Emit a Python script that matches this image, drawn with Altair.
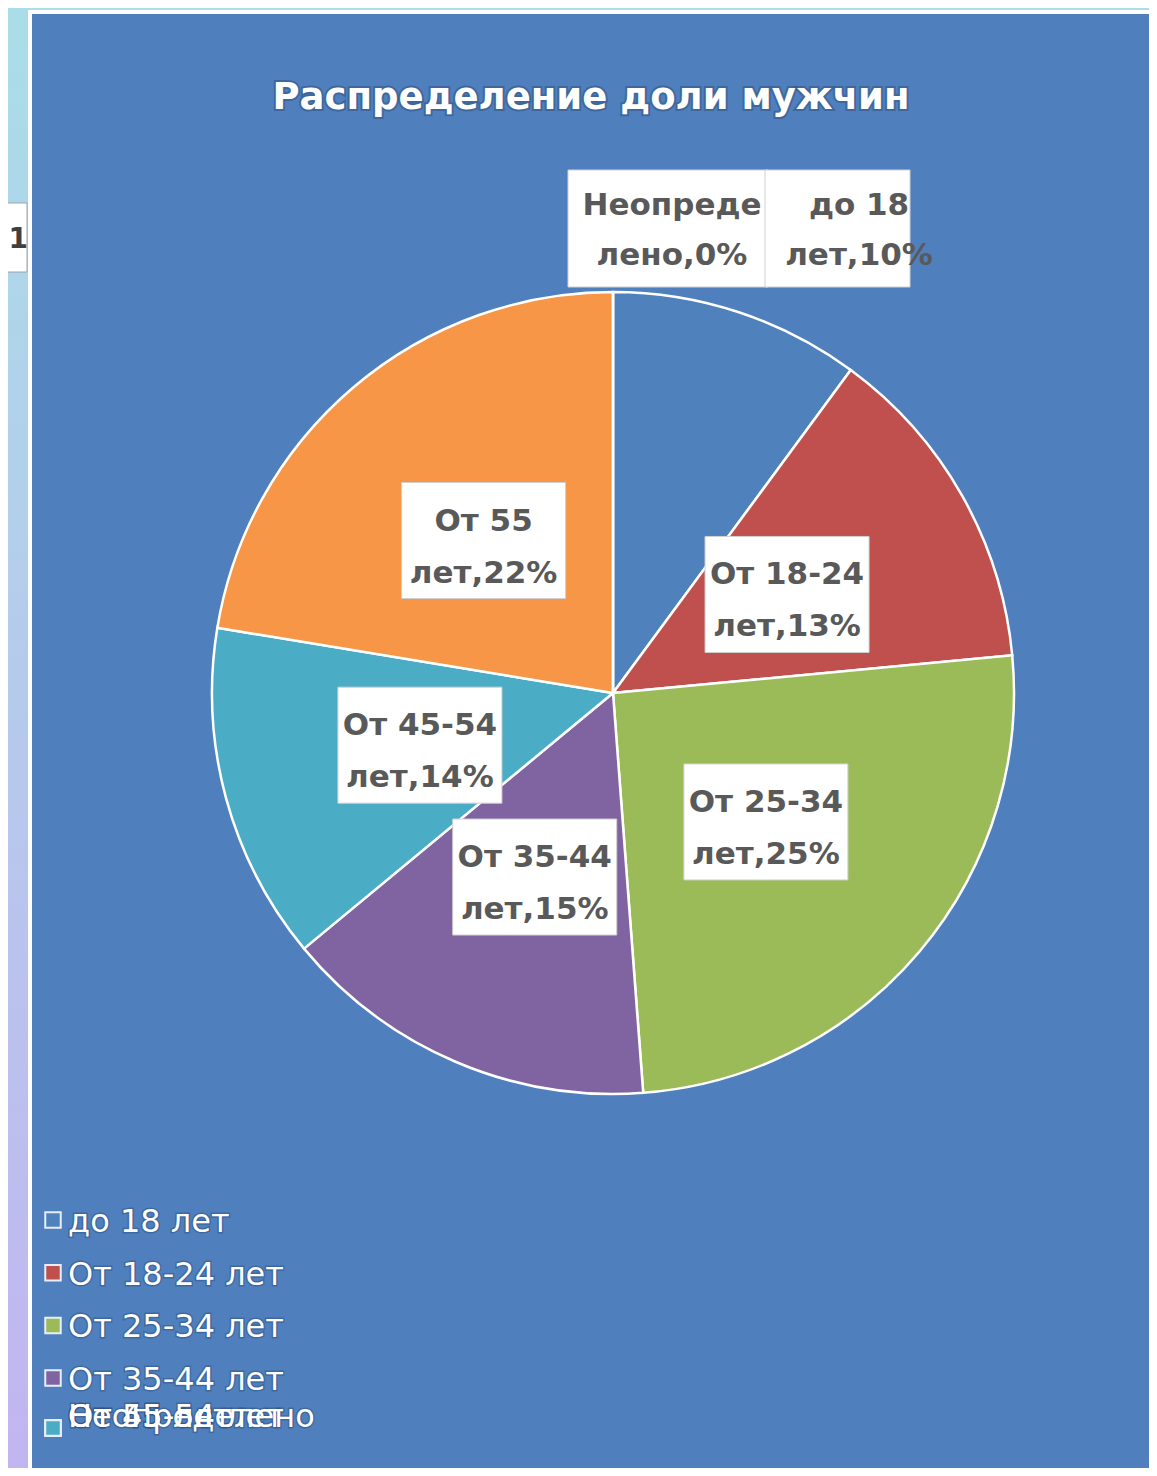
import altair as alt
import pandas as pd

# ---------------- data ----------------
categories = ["до 18 лет", "От 18-24 лет", "От 25-34 лет", "От 35-44 лет",
              "От 45-54 лет", "От 55 лет", "Неопределено"]
shares = [10.1, 13.4, 25.3, 15.2, 13.6, 22.4, 0.0]
label_line1 = ["до 18", "От 18-24", "От 25-34", "От 35-44", "От 45-54", "От 55", "Неопреде"]
label_line2 = ["лет,10%", "лет,13%", "лет,25%", "лет,15%", "лет,14%", "лет,22%", "лено,0%"]
colors = ["#4F81BD", "#C0504D", "#9BBB59", "#8064A2", "#4BACC6", "#F79646", "#2C4D75"]
title_text = "Распределение доли мужчин"
fragment_text = ",1"

W, H = 1141, 1460
CX, CY, R = 605, 685, 401
BG = "#4F80BD"
LFONT = "DejaVu Sans"
LSIZE = 31
LCOLOR = "#595959"

df = pd.DataFrame({
    "cat": categories,
    "share": shares,
    "idx": list(range(len(categories))),
    "label": [a + "\n" + b for a, b in zip(label_line1, label_line2)],
})
one = pd.DataFrame({"k": [0]})

# ---------------- background ----------------
grad = alt.LinearGradient(
    gradient="linear",
    stops=[alt.GradientStop(offset=0, color="#AADDE8"),
           alt.GradientStop(offset=1, color="#C2B5F0")],
    x1=0, x2=0, y1=0, y2=1,
)
bg_outer = alt.Chart(one).mark_rect(color=grad).encode(
    x=alt.value(0), x2=alt.value(W), y=alt.value(0), y2=alt.value(H))
frame = alt.Chart(one).mark_rect(color="white").encode(
    x=alt.value(20), x2=alt.value(W), y=alt.value(2), y2=alt.value(H))
panel = alt.Chart(one).mark_rect(color=BG).encode(
    x=alt.value(24), x2=alt.value(W), y=alt.value(6), y2=alt.value(H))

frag_box = alt.Chart(one).mark_rect(color="white", stroke="#9aa3ad", strokeWidth=1).encode(
    x=alt.value(-10), x2=alt.value(19), y=alt.value(195), y2=alt.value(264))
frag_txt = alt.Chart(pd.DataFrame({"t": [fragment_text]})).mark_text(
    font=LFONT, fontSize=28, fontWeight="bold", color="#404040", align="right", baseline="middle"
).encode(text="t:N", x=alt.value(20), y=alt.value(232))

# ---------------- title ----------------
tdf = pd.DataFrame({"t": [title_text]})
title_shadow = alt.Chart(tdf).mark_text(
    font=LFONT, fontSize=37, fontWeight="bold", color="#2A4A75", stroke="#2A4A75",
    strokeWidth=4, strokeOpacity=0.55, opacity=0.8, align="center", baseline="middle"
).encode(text="t:N", x=alt.value(583), y=alt.value(90))
title = alt.Chart(tdf).mark_text(
    font=LFONT, fontSize=37, fontWeight="bold", color="white", align="center", baseline="middle"
).encode(text="t:N", x=alt.value(583), y=alt.value(90))

# ---------------- pie ----------------
pie = alt.Chart(df).mark_arc(outerRadius=R, stroke="white", strokeWidth=2.5).encode(
    theta=alt.Theta("share:Q", stack=True),
    color=alt.Color("cat:N", scale=alt.Scale(domain=categories, range=colors), legend=None),
    order=alt.Order("idx:Q"),
    x=alt.value(CX), y=alt.value(CY),
)

# inside labels positioned from slice mid-angles
base_lab = alt.Chart(df).transform_joinaggregate(
    total="sum(share)"
).transform_window(
    cum="sum(share)", sort=[alt.SortField("idx")], frame=[None, 0]
).transform_calculate(
    mid="2*PI*(datum.cum - datum.share/2)/datum.total",
).transform_calculate(
    lx=f"{CX} + 200*sin(datum.mid)",
    ly=f"{CY} - 200*cos(datum.mid)",
).transform_filter(
    "datum.idx >= 1 && datum.idx <= 5"
).transform_calculate(
    bx1="datum.lx - 82", bx2="datum.lx + 82",
    by1="datum.ly - 58", by2="datum.ly + 58",
)
lab_box = base_lab.mark_rect(color="white", stroke="#d0d0d0", strokeWidth=1).encode(
    x=alt.X("bx1:Q", scale=None, axis=None), x2="bx2:Q",
    y=alt.Y("by1:Q", scale=None, axis=None), y2="by2:Q",
)
lab_txt = base_lab.mark_text(
    font=LFONT, fontSize=LSIZE, fontWeight="bold", color=LCOLOR, lineBreak="\n",
    lineHeight=52, align="center", baseline="middle", dy=-19
).encode(
    x=alt.X("lx:Q", scale=None, axis=None),
    y=alt.Y("ly:Q", scale=None, axis=None),
    text="label:N",
)

# outside labels (small slices at the top)
und = df[df.idx == 6]
u18 = df[df.idx == 0]
und_box = alt.Chart(und).mark_rect(color="white", stroke="#d0d0d0", strokeWidth=1).encode(
    x=alt.value(560), x2=alt.value(760), y=alt.value(162), y2=alt.value(279))
u18_box = alt.Chart(u18).mark_rect(color="white", stroke="#d0d0d0", strokeWidth=1).encode(
    x=alt.value(757), x2=alt.value(902), y=alt.value(162), y2=alt.value(279))
und_txt = alt.Chart(und).mark_text(
    font=LFONT, fontSize=LSIZE, fontWeight="bold", color=LCOLOR, lineBreak="\n",
    lineHeight=50, align="center", baseline="middle", dy=-19
).encode(text="label:N", x=alt.value(664), y=alt.value(217))
u18_txt = alt.Chart(u18).mark_text(
    font=LFONT, fontSize=LSIZE, fontWeight="bold", color=LCOLOR, lineBreak="\n",
    lineHeight=50, align="center", baseline="middle", dy=-19
).encode(text="label:N", x=alt.value(851), y=alt.value(217))

# ---------------- legend ----------------
leg_base = alt.Chart(df).transform_calculate(
    ty="datum.idx < 4 ? 1214 + 52.7*datum.idx : 1409",
    sy="datum.idx < 4 ? 1212 + 52.7*datum.idx : 1420",
    z="datum.idx == 4 ? 10 : datum.idx",
)
leg_sq = leg_base.mark_square(size=240, opacity=1, stroke="#E6EEF8", strokeWidth=2).encode(
    x=alt.value(45),
    y=alt.Y("sy:Q", scale=None, axis=None),
    fill=alt.Color("cat:N", scale=alt.Scale(domain=categories, range=colors), legend=None),
    order=alt.Order("z:Q"),
)
leg_glow = leg_base.mark_text(
    font=LFONT, fontSize=32, color="#22416B", stroke="#22416B", strokeWidth=3,
    strokeOpacity=0.5, opacity=0.7, align="left", baseline="middle"
).encode(x=alt.value(60), y=alt.Y("ty:Q", scale=None, axis=None), text="cat:N")
leg_txt = leg_base.mark_text(
    font=LFONT, fontSize=32, color="white", align="left", baseline="middle"
).encode(x=alt.value(60), y=alt.Y("ty:Q", scale=None, axis=None), text="cat:N")

chart = alt.layer(
    bg_outer, frame, panel, frag_box, frag_txt,
    title_shadow, title,
    pie, lab_box, lab_txt,
    und_box, u18_box, und_txt, u18_txt,
    leg_sq, leg_glow, leg_txt,
).properties(
    width=W, height=H, padding=0, autosize=alt.AutoSizeParams(type="none")
).configure_view(stroke=None)

chart.save("out.html", embed_options={"renderer": "svg", "actions": False})
